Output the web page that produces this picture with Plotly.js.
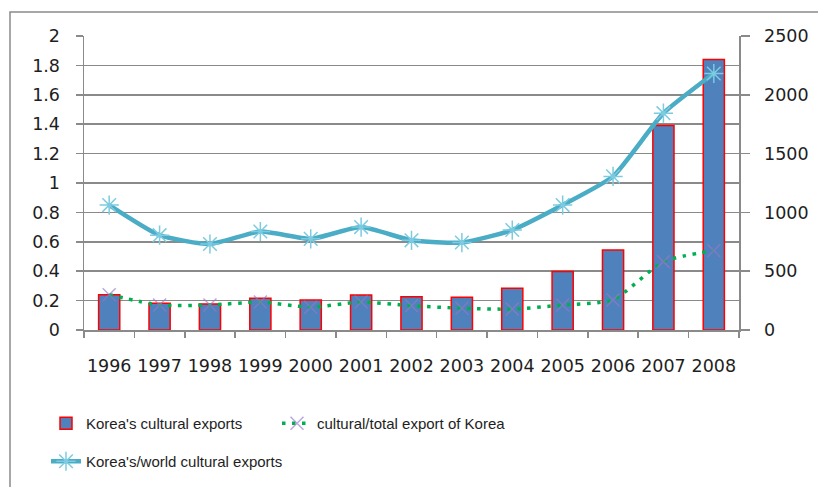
<!DOCTYPE html>
<html>
<head>
<meta charset="utf-8">
<script src="https://cdn.plot.ly/plotly-3.0.1.min.js"></script>
<style>
  html, body { margin: 0; padding: 0; background: #fff; }
  #chart { width: 818px; height: 487px; }
</style>
</head>
<body>
<div id="chart"></div>
<script>
// Years on the category axis
const years = ['1996','1997','1998','1999','2000','2001','2002','2003','2004','2005','2006','2007','2008'];

// Korea's cultural exports (right axis, 0-2500)
const culturalExports = [300, 228, 222, 270, 255, 298, 283, 278, 355, 497, 680, 1740, 2300];

// Korea's share of world cultural exports (left axis, 0-2)
const worldShare = [0.85, 0.645, 0.585, 0.67, 0.62, 0.70, 0.61, 0.595, 0.68, 0.85, 1.045, 1.475, 1.745];

// Cultural exports as a share of Korea's total exports (left axis, 0-2)
const totalShare = [0.24, 0.17, 0.17, 0.19, 0.155, 0.19, 0.165, 0.148, 0.142, 0.17, 0.205, 0.465, 0.54];

const leftTicks = [0, 0.2, 0.4, 0.6, 0.8, 1, 1.2, 1.4, 1.6, 1.8, 2];
const rightTicks = [0, 500, 1000, 1500, 2000, 2500];

const tickFont = { family: 'DejaVu Sans, Verdana, sans-serif', size: 17.5, color: '#1e1e1e' };
const legendFont = { family: '"Liberation Sans", Arial, sans-serif', size: 15, color: '#1e1e1e' };
const gridGrey = '#8a8a8a';

const traces = [
  {
    type: 'bar',
    name: "Korea's cultural exports",
    x: years,
    y: culturalExports,
    yaxis: 'y',
    width: 0.42,
    marker: { color: '#4F81BD', line: { color: '#FF0000', width: 1.5 } },
    legend: 'legend',
    hoverinfo: 'skip'
  },
  {
    type: 'scatter',
    mode: 'lines+markers',
    name: 'cultural/total export of Korea',
    x: years,
    y: totalShare,
    yaxis: 'y2',
    line: { color: '#00B050', width: 3.5, dash: '3.5px,6.5px', shape: 'spline', smoothing: 0.6 },
    marker: { symbol: 'x-thin-open', size: 13, color: 'rgba(150,120,200,0.65)', line: { width: 1.5, color: 'rgba(150,120,200,0.65)' } },
    legend: 'legend',
    hoverinfo: 'skip'
  },
  {
    type: 'scatter',
    mode: 'lines+markers',
    name: "Korea's/world cultural exports",
    x: years,
    y: worldShare,
    yaxis: 'y2',
    line: { color: '#4BACC6', width: 4.5, shape: 'spline', smoothing: 0.5 },
    marker: { symbol: 'asterisk-open', size: 16, color: '#7CCBE0', line: { width: 1.5, color: '#7CCBE0' } },
    legend: 'legend2',
    hoverinfo: 'skip'
  }
];

// Plot area spans x 84..739 px and y 36..330 px
const pxX = px => (px - 84) / 655;
const pxY = py => (330 - py) / 294;

const layout = {
  width: 818,
  height: 487,
  margin: { l: 84, r: 79, t: 36, b: 157, pad: 0, autoexpand: false },
  paper_bgcolor: '#ffffff',
  plot_bgcolor: '#ffffff',
  showlegend: true,
  xaxis: {
    type: 'category',
    range: [-0.5, years.length - 0.5],
    automargin: false,
    showgrid: false,
    showline: true,
    linecolor: gridGrey,
    linewidth: 1.5,
    ticks: 'outside',
    tickson: 'boundaries',
    ticklen: 6,
    tickwidth: 1.5,
    tickcolor: gridGrey,
    tickfont: tickFont,
    tickangle: 0,
    ticklabelstandoff: 19,
    zeroline: false,
    fixedrange: true
  },
  yaxis: {
    side: 'right',
    automargin: false,
    range: [0, 2500],
    tickvals: rightTicks,
    ticktext: rightTicks.map(String),
    showgrid: false,
    showline: true,
    linecolor: gridGrey,
    linewidth: 1.5,
    ticks: 'outside',
    ticklen: 9,
    tickwidth: 1.5,
    tickcolor: gridGrey,
    tickfont: tickFont,
    ticklabelstandoff: 11,
    zeroline: false,
    fixedrange: true
  },
  yaxis2: {
    side: 'left',
    overlaying: 'y',
    automargin: false,
    range: [0, 2],
    tickvals: leftTicks,
    ticktext: leftTicks.map(String),
    showgrid: true,
    gridcolor: gridGrey,
    gridwidth: 1.5,
    showline: true,
    linecolor: gridGrey,
    linewidth: 1.5,
    ticks: 'outside',
    ticklen: 7,
    tickwidth: 1.5,
    tickcolor: gridGrey,
    tickfont: tickFont,
    ticklabelstandoff: 12,
    zeroline: false,
    fixedrange: true
  },
  legend: {
    orientation: 'h',
    x: pxX(46),
    xanchor: 'left',
    y: pxY(407),
    yanchor: 'top',
    entrywidth: 186,
    entrywidthmode: 'pixels',
    font: legendFont,
    bgcolor: 'rgba(0,0,0,0)',
    traceorder: 'normal'
  },
  legend2: {
    orientation: 'h',
    x: pxX(46),
    xanchor: 'left',
    y: pxY(445),
    yanchor: 'top',
    font: legendFont,
    bgcolor: 'rgba(0,0,0,0)'
  },
  shapes: [
    // chart-area frame
    {
      type: 'rect', xref: 'paper', yref: 'paper',
      x0: pxX(10), x1: pxX(840), y0: pxY(520), y1: pxY(12),
      line: { color: '#8a8a8a', width: 1.5 }, fillcolor: 'rgba(0,0,0,0)', layer: 'below'
    }
  ]
};

Plotly.newPlot('chart', traces, layout, { displayModeBar: false, staticPlot: true });
</script>
</body>
</html>
